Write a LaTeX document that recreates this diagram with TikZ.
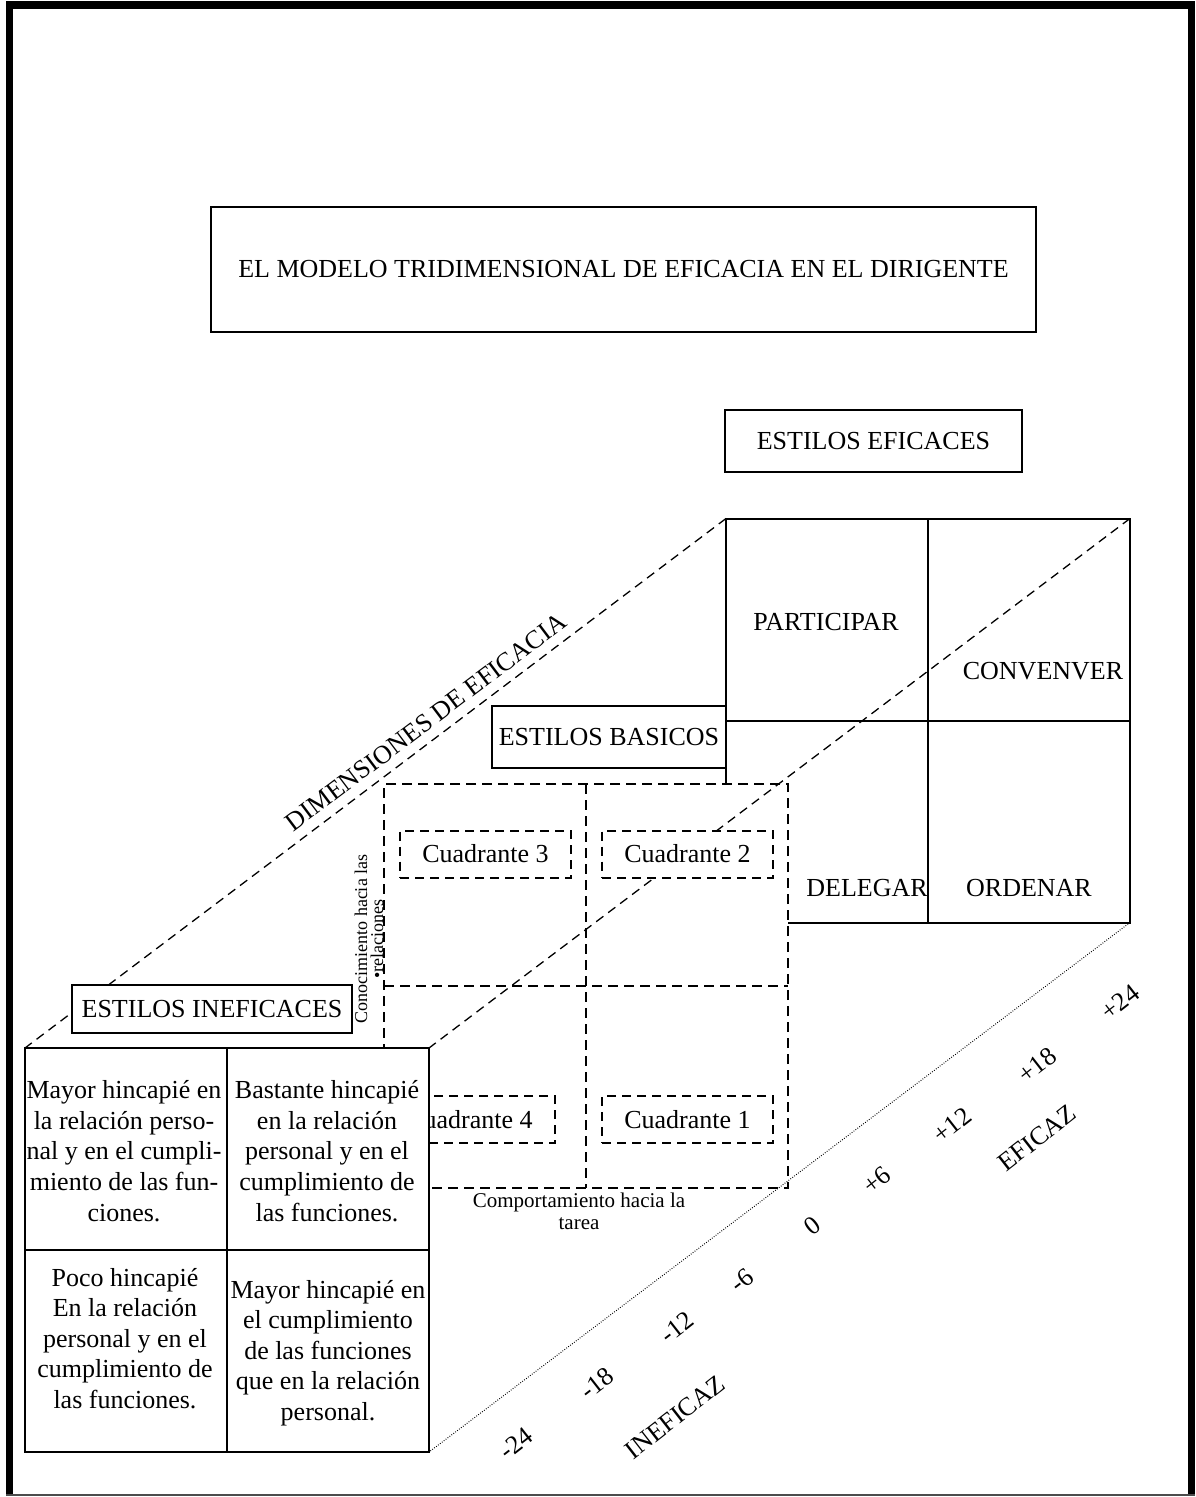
\documentclass[tikz,border=0pt]{standalone}
\usepackage{fontspec}
\setmainfont{Liberation Serif}
\pgfdeclarelayer{lay0}
\pgfdeclarelayer{lay1}
\pgfdeclarelayer{lay2}
\pgfdeclarelayer{lay3}
\pgfsetlayers{lay0,lay1,lay2,lay3,main}
\begin{document}
\begin{tikzpicture}[x=1pt,y=-1pt,
  gridbox/.style={draw, line width=2pt, fill=white, inner sep=0pt, outer sep=0pt,
    minimum width=404pt, minimum height=404pt},
  layerbox/.style={draw, line width=2.4pt, dash pattern=on 10pt off 6pt, fill=white,
    inner sep=0pt, outer sep=0pt, minimum width=404pt, minimum height=404pt},
  tagbox/.style={draw, line width=2pt, fill=white, inner sep=0pt,
    font=\fontsize{26}{30}\selectfont},
  quadbox/.style={draw, line width=2pt, dash pattern=on 9pt off 6pt, fill=white,
    inner sep=0pt, minimum width=171pt, minimum height=47pt,
    font=\fontsize{26}{30}\selectfont},
  lbl/.style={font=\fontsize{26}{30}\selectfont, inner sep=0pt},
  celltext/.style={font=\fontsize{26}{30.6}\selectfont, align=center, inner sep=0pt},
  scalelbl/.style={font=\fontsize{26}{30}\selectfont, inner sep=0pt, rotate=38},
  depthline/.style={line width=1.3pt, dash pattern=on 9pt off 6pt},
  dotline/.style={line width=1pt, dash pattern=on 0.8pt off 1.6pt}
]
\useasboundingbox (0,0) rectangle (1195,1497);

% ---- back layer: effective styles grid ----
\begin{pgfonlayer}{lay0}
  \node[gridbox] (back) at (928,720.5) {};
  \draw[line width=2pt] (back.north) -- (back.south) (back.west) -- (back.east);
  \node[lbl] (participar) at (826,622) {PARTICIPAR};
  \node[lbl] (convencer) at (1043,671) {CONVENVER};
  \node[lbl] (delegar) at (867,888) {DELEGAR};
  \node[lbl] (ordenar) at (1029,888) {ORDENAR};
\end{pgfonlayer}

% ---- middle layer: basic styles quadrants ----
\begin{pgfonlayer}{lay1}
  \node[layerbox] (mid) at (586,986) {};
  \draw[line width=2.4pt, dash pattern=on 10pt off 6pt]
    (mid.north) -- (mid.south) (mid.west) -- (mid.east);
\end{pgfonlayer}

% ---- front layer: ineffective styles grid ----
\node[gridbox] (front) at (227,1250) {};
\draw[line width=2pt] (front.north) -- (front.south) (front.west) -- (front.east);
\node[celltext] (c1) at (124,1151) {Mayor hincapié en\\la relación perso-\\nal y en el cumpli-\\miento de las fun-\\ciones.};
\node[celltext] (c2) at (327,1151) {Bastante hincapié\\en la relación\\personal y en el\\cumplimiento de\\las funciones.};
\node[celltext] (c3) at (125,1338.5) {Poco hincapié\\En la relación\\personal y en el\\cumplimiento de\\las funciones.};
\node[celltext] (c4) at (328,1353) {Mayor hincapié en\\el cumplimiento\\de las funciones\\que en la relación\\personal.};

% ---- depth edges of the cube ----
\begin{pgfonlayer}{lay2}
  \draw[depthline] (back.north west) -- (front.north west);
  \draw[depthline] (back.north east) -- (front.north east);
  \draw[dotline] (back.south east) -- (front.south east);
\end{pgfonlayer}

% ---- quadrant labels ----
\begin{pgfonlayer}{lay3}
  \node[quadbox] (q3) at (485.5,854) {Cuadrante 3};
  \node[quadbox] (q2) at (687.5,854) {Cuadrante 2};
  \node[quadbox] (q4) at (469.5,1119.5) {Cuadrante 4};
  \node[quadbox] (q1) at (687.5,1119.5) {Cuadrante 1};
\end{pgfonlayer}

% ---- titles and tags ----
\node[tagbox, minimum width=825pt, minimum height=125pt] (title) at (623.5,269.5)
  {EL MODELO TRIDIMENSIONAL DE EFICACIA EN EL DIRIGENTE};
\node[tagbox, minimum width=297pt, minimum height=62pt] (eficaces) at (873.5,441) {ESTILOS EFICACES};
\node[tagbox, minimum width=234pt, minimum height=62pt] (basicos) at (609,737) {ESTILOS BASICOS};
\node[tagbox, minimum width=280pt, minimum height=48pt] (ineficaces) at (212,1009) {ESTILOS INEFICACES};

% ---- axis captions ----
\node[lbl, rotate=37] (dims) at (426,722) {DIMENSIONES DE EFICACIA};
\node[font=\fontsize{18}{16}\selectfont, align=center, inner sep=0pt, rotate=90]
  (conoc) at (369,939) {Conocimiento hacia las\\•relaciones};
\node[font=\fontsize{21}{22}\selectfont, align=center, inner sep=0pt]
  (comport) at (579,1211) {Comportamiento hacia la\\tarea};

% ---- effectiveness scale ----
\node[scalelbl] (m24) at (516,1443) {-24};
\node[scalelbl] (m18) at (597,1383) {-18};
\node[scalelbl] (m12) at (677,1327) {-12};
\node[scalelbl] (m6) at (742,1280) {-6};
\node[scalelbl] (z0) at (812,1226) {0};
\node[scalelbl] (p6) at (877,1180) {+6};
\node[scalelbl] (p12) at (952,1125) {+12};
\node[scalelbl] (p18) at (1037,1065) {+18};
\node[scalelbl] (p24) at (1120,1002) {+24};
\node[scalelbl] (eficaz) at (1037,1138) {EFICAZ};
\node[scalelbl] (ineficaz) at (675,1417) {INEFICAZ};

% ---- page frame ----
\fill (6,1) rectangle (1195,9);
\fill (6,1) rectangle (13,1496);
\fill (1188,1) rectangle (1195,1496);
\draw[line width=1.5pt, black!70] (6,1495) -- (1195,1495);
\end{tikzpicture}
\end{document}
